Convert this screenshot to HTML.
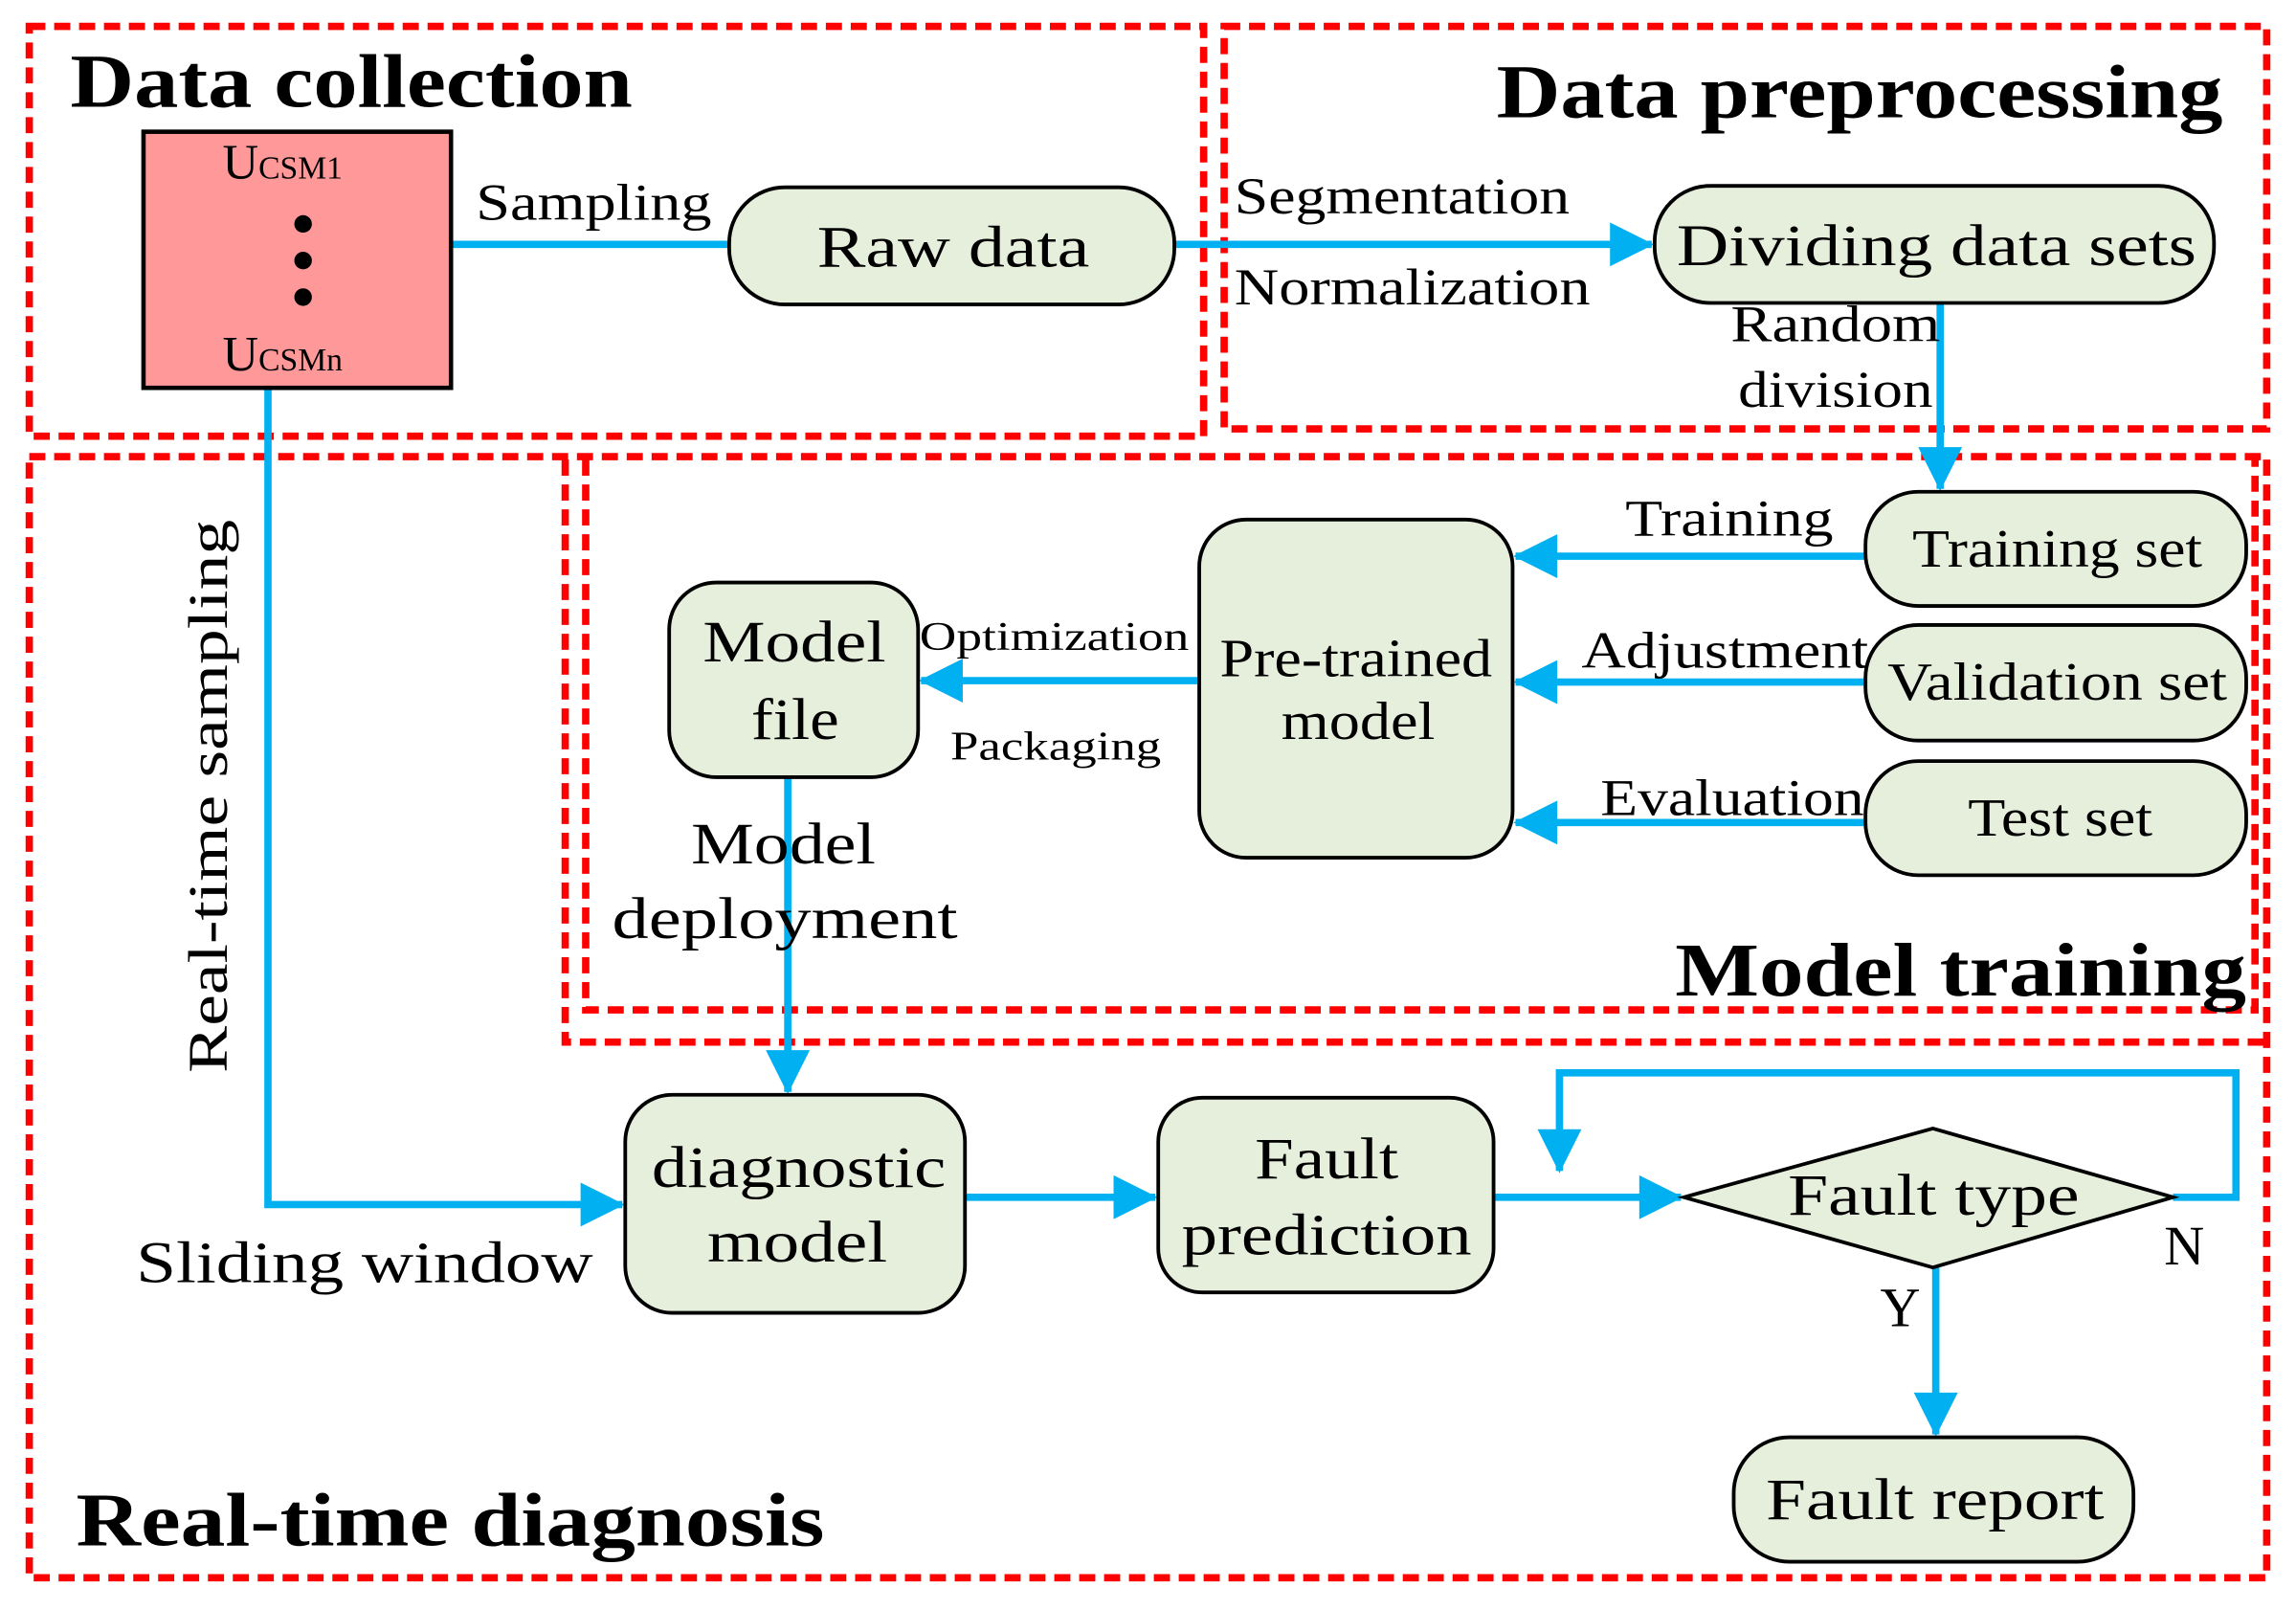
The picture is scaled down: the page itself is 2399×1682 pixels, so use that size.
<!DOCTYPE html>
<html><head><meta charset="utf-8"><style>
html,body{margin:0;padding:0;background:#fff}
svg{display:block}
text{font-family:"Liberation Serif",serif;fill:#000}
</style></head><body>
<svg width="2399" height="1682" viewBox="0 0 1568 1100" preserveAspectRatio="none" xmlns="http://www.w3.org/2000/svg">
<defs>
<marker id="a" viewBox="0 0 10 10" refX="9.5" refY="5" markerWidth="8" markerHeight="6" orient="auto" markerUnits="strokeWidth">
<path d="M0,0 L10,5 L0,10 z" fill="#00b0f0"/></marker>
</defs>
<g fill="none" stroke="#ff0000" stroke-width="5" stroke-dasharray="11,6">
<rect x="20" y="18" width="802" height="280"/>
<rect x="836" y="18" width="712" height="275"/>
<rect x="20" y="312" width="1528" height="766"/>
<path d="M386,314 V712 H1546"/>
<path d="M400,314 V690 H1540 V314"/>
</g>
<g fill="none" stroke="#00b0f0" stroke-width="5">
<path d="M308,167 H498"/>
<path d="M802,167 H1128" marker-end="url(#a)"/>
<path d="M1325,207 V334" marker-end="url(#a)"/>
<path d="M1274,380 H1035" marker-end="url(#a)"/>
<path d="M1274,466 H1035" marker-end="url(#a)"/>
<path d="M1274,562 H1035" marker-end="url(#a)"/>
<path d="M819,465 H629" marker-end="url(#a)"/>
<path d="M538,531 V746" marker-end="url(#a)"/>
<path d="M183,265 V823 H425" marker-end="url(#a)"/>
<path d="M659,818 H789" marker-end="url(#a)"/>
<path d="M1020,818 H1148" marker-end="url(#a)"/>
<path d="M1484,818 H1527 V733 H1065 V800" marker-end="url(#a)"/>
<path d="M1322,866 V980" marker-end="url(#a)"/>
</g>
<g stroke="#000" stroke-width="2.5" fill="#e6efdc">
<rect x="98" y="90" width="210" height="175" fill="#ff9999" stroke-width="3"/>
<rect x="498" y="128" width="304" height="80" rx="38"/>
<rect x="1130" y="127" width="382" height="80" rx="38"/>
<rect x="1274" y="336" width="260" height="78" rx="36"/>
<rect x="1274" y="427" width="260" height="79" rx="36"/>
<rect x="1274" y="520" width="260" height="78" rx="36"/>
<rect x="819" y="355" width="214" height="231" rx="32"/>
<rect x="457" y="398" width="170" height="133" rx="32"/>
<rect x="427" y="748" width="232" height="149" rx="32"/>
<rect x="791" y="750" width="229" height="133" rx="30"/>
<path d="M1150,818 L1320,771 L1484,818 L1320,866 Z"/>
<rect x="1184" y="982" width="273" height="85" rx="38"/>
</g>
<circle cx="207" cy="153" r="6"/><circle cx="207" cy="178" r="6"/><circle cx="207" cy="203" r="6"/>
<g font-weight="bold" font-size="52">
<text x="48" y="73" textLength="384" lengthAdjust="spacingAndGlyphs">Data collection</text>
<text x="1022" y="80" textLength="496" lengthAdjust="spacingAndGlyphs">Data preprocessing</text>
<text x="1144" y="680" textLength="390" lengthAdjust="spacingAndGlyphs">Model training</text>
<text x="52" y="1056" textLength="511" lengthAdjust="spacingAndGlyphs">Real-time diagnosis</text>
</g>
<text x="152" y="122" font-size="34">U<tspan font-size="22">CSM1</tspan></text>
<text x="152" y="253" font-size="34">U<tspan font-size="22">CSMn</tspan></text>
<g font-size="40">
<text x="558" y="182" textLength="186" lengthAdjust="spacingAndGlyphs">Raw data</text>
<text x="1145" y="181" textLength="355" lengthAdjust="spacingAndGlyphs">Dividing data sets</text>
<text x="1306" y="387" font-size="37" textLength="198" lengthAdjust="spacingAndGlyphs">Training set</text>
<text x="1289" y="478" font-size="37" textLength="232" lengthAdjust="spacingAndGlyphs">Validation set</text>
<text x="1344" y="571" font-size="37" textLength="126" lengthAdjust="spacingAndGlyphs">Test set</text>
<text x="833" y="462" font-size="37" textLength="186" lengthAdjust="spacingAndGlyphs">Pre-trained</text>
<text x="875" y="505" font-size="37" textLength="105" lengthAdjust="spacingAndGlyphs">model</text>
<text x="480" y="452" textLength="125" lengthAdjust="spacingAndGlyphs">Model</text>
<text x="513" y="505" textLength="60" lengthAdjust="spacingAndGlyphs">file</text>
<text x="445" y="811" textLength="201" lengthAdjust="spacingAndGlyphs">diagnostic</text>
<text x="483" y="862" textLength="123" lengthAdjust="spacingAndGlyphs">model</text>
<text x="857" y="805" textLength="98" lengthAdjust="spacingAndGlyphs">Fault</text>
<text x="807" y="857" textLength="198" lengthAdjust="spacingAndGlyphs">prediction</text>
<text x="1221" y="830" textLength="199" lengthAdjust="spacingAndGlyphs">Fault type</text>
<text x="1206" y="1038" textLength="231" lengthAdjust="spacingAndGlyphs">Fault report</text>
</g>
<g font-size="35">
<text x="325" y="150" textLength="161" lengthAdjust="spacingAndGlyphs">Sampling</text>
<text x="843" y="146" textLength="229" lengthAdjust="spacingAndGlyphs">Segmentation</text>
<text x="843" y="208" textLength="243" lengthAdjust="spacingAndGlyphs">Normalization</text>
<text x="1182" y="233" textLength="143" lengthAdjust="spacingAndGlyphs">Random</text>
<text x="1187" y="278" textLength="133" lengthAdjust="spacingAndGlyphs">division</text>
<text x="1110" y="366" textLength="142" lengthAdjust="spacingAndGlyphs">Training</text>
<text x="1080" y="456" textLength="196" lengthAdjust="spacingAndGlyphs">Adjustment</text>
<text x="1093" y="557" textLength="180" lengthAdjust="spacingAndGlyphs">Evaluation</text>
<text x="628" y="444" font-size="28" textLength="184" lengthAdjust="spacingAndGlyphs">Optimization</text>
<text x="649" y="519" font-size="28" textLength="144" lengthAdjust="spacingAndGlyphs">Packaging</text>
<text x="472" y="590" font-size="40" textLength="126" lengthAdjust="spacingAndGlyphs">Model</text>
<text x="418" y="641" font-size="40" textLength="236" lengthAdjust="spacingAndGlyphs">deployment</text>
<text x="93" y="876" font-size="40" textLength="312" lengthAdjust="spacingAndGlyphs">Sliding window</text>
<text x="1478" y="864" font-size="38">N</text>
<text x="1284" y="906" font-size="38">Y</text>
<text transform="translate(155,733) rotate(-90)" font-size="38" textLength="378" lengthAdjust="spacingAndGlyphs">Real-time sampling</text>
</g>
</svg>
</body></html>
